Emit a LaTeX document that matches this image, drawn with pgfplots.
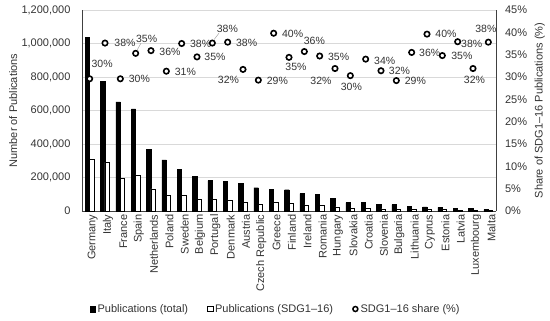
\documentclass[border=0pt]{standalone}
\usepackage{pgfplots}
\pgfplotsset{compat=1.18}
\usepackage{pgfplotstable}
\usepackage{fontspec}
\setmainfont{Liberation Sans}
\definecolor{txt}{HTML}{333333}
\definecolor{gridc}{HTML}{D9D9D9}
\newcommand\f{\fontsize{11bp}{13bp}\selectfont}
\newcommand\fs{\fontsize{10.5bp}{12bp}\selectfont}

\pgfplotstableread{
x total sdg
1 1035000 306000
2 772000 290000
3 652000 193000
4 609000 215000
5 368000 132000
6 305000 95000
7 249000 93000
8 205000 71000
9 181000 68000
10 175000 66000
11 165000 52000
12 139000 41000
13 128000 51000
14 127000 44000
15 104000 37000
16 98000 34000
17 74000 24000
18 50000 15000
19 50000 17000
20 40000 12600
21 38000 11000
22 26000 9200
23 24000 9500
24 22000 7700
25 16000 6100
26 14000 4500
27 8000 3000
}\pubtab

\pgfplotstableread{
x s lab dx dy
1 29.6 30 12.5 14.5
2 37.6 38 20 0
3 29.6 30 19 0
4 35.3 35 11 14
5 35.9 36 19 -1
6 31.3 31 19 -1
7 37.5 38 19 0
8 34.5 35 18 0
9 37.6 38 15 14.5
10 37.8 38 19 -1
11 31.7 32 -14.5 -10.7
12 29.3 29 19 -0.5
13 39.8 40 19 -0.5
14 34.4 35 7 -9.4
15 35.7 36 10 11
16 34.7 35 19 -1
17 31.9 32 -14 -12.7
18 30.3 30 1 -11
19 34.0 34 19 -1.5
20 31.4 32 18.5 0
21 29.2 29 19 -0.5
22 35.5 36 18 -0.5
23 39.6 40 19 0
24 34.8 35 19.5 -0.5
25 37.9 38 14 -2
26 31.9 32 1.5 -11.7
27 37.8 38 -2.5 13
}\sharetab

\begin{document}
\begin{tikzpicture}
\begin{axis}[
  at={(0,0)}, anchor=south west,
  scale only axis, width=414bp, height=201bp,
  xmin=0.5, xmax=27.5, ymin=0, ymax=1200000,
  axis x line*=bottom, axis y line*=left,
  axis line style={-, draw=black!75, line width=0.8bp},
  xtick={1,...,27},
  xticklabels={Germany,Italy,France,Spain,Netherlands,Poland,Sweden,Belgium,Portugal,Denmark,Austria,Czech Republic,Greece,Finland,Ireland,Romania,Hungary,Slovakia,Croatia,Slovenia,Bulgaria,Lithuania,Cyprus,Estonia,Latvia,Luxembourg,Malta},
  xticklabel style={rotate=90, anchor=east, font=\f, text=txt, yshift=-3bp},
  ytick={0,200000,...,1200000},
  scaled y ticks=false,
  yticklabel style={font=\f, text=txt, xshift=-8bp,
    /pgf/number format/.cd, fixed, 1000 sep={,}, assume math mode=true},
  major tick length=0pt,
  ymajorgrids, grid style={gridc, line width=0.7bp},
  ylabel={Number of Publications},
  every axis y label/.style={at={(axis description cs:-0.166,0.5)}, rotate=90, anchor=center, font=\f, text=txt},
  ybar, bar width=4.4bp,
  legend columns=3,
  legend style={at={(axis description cs:0.468,-0.4876)}, anchor=center, draw=none, fill=none,
    font=\f, text=txt, inner sep=0pt,
    /tikz/every even column/.append style={column sep=17bp}},
]
\addplot[fill=black, draw=black, line width=0.4bp, bar shift=-2.2bp,
  legend image code/.code={\draw[fill=black,draw=black] (0bp,-2.7bp) rectangle (5.4bp,2.7bp);}]
  table[x=x,y=total]{\pubtab};
\addlegendentry{Publications (total)}
\addplot[fill=white, draw=black, line width=0.6bp, bar shift=2.2bp,
  legend image code/.code={\draw[fill=white,draw=black,line width=0.6bp] (0bp,-2.7bp) rectangle (5.4bp,2.7bp);}]
  table[x=x,y=sdg]{\pubtab};
\addlegendentry{Publications (SDG1–16)}
\addlegendimage{legend image code/.code={\draw[fill=white,draw=black,line width=1.5bp] (2.7bp,0bp) circle (2.5bp);}}
\addlegendentry{SDG1–16 share (\%)}
\end{axis}

\begin{axis}[
  at={(0,0)}, anchor=south west,
  scale only axis, width=414bp, height=201bp,
  xmin=0.5, xmax=27.5, ymin=0, ymax=45,
  axis y line*=right, axis x line=none,
  axis line style={-, draw=black!75, line width=0.8bp},
  ytick={0,5,...,45},
  yticklabel={\pgfmathprintnumber{\tick}\%},
  yticklabel style={font=\f, text=txt, xshift=5.5bp, /pgf/number format/assume math mode=true},
  major tick length=0pt,
  ylabel={Share of SDG1–16 Publications (\%)},
  every axis y label/.style={at={(axis description cs:1.106,0.5)}, rotate=90, anchor=center, font=\f, text=txt},
  clip=false,
]
\draw[gray!70, line width=0.5bp] (axis cs:4.09,36.0) -- (axis cs:4.35,37.6);
\draw[gray!70, line width=0.5bp] (axis cs:9.12,38.4) -- (axis cs:9.43,39.8);
\addplot[only marks, mark=*, mark size=2.7bp,
  mark options={fill=white, draw=black, line width=1.6bp},
  point meta=explicit,
  visualization depends on={\thisrow{dx}\as\mydx},
  visualization depends on={\thisrow{dy}\as\mydy},
  nodes near coords={\pgfmathprintnumber[fixed,precision=0,assume math mode=true]{\pgfplotspointmeta}\%},
  every node near coord/.append style={anchor=center, xshift=\mydx bp, yshift=\mydy bp, font=\fs, text=txt, inner sep=0pt},
] table[x=x,y=s,meta=lab]{\sharetab};
\end{axis}
\pgfresetboundingbox
\path (-82bp,-110bp) rectangle (468bp,211bp);
\end{tikzpicture}
\end{document}
